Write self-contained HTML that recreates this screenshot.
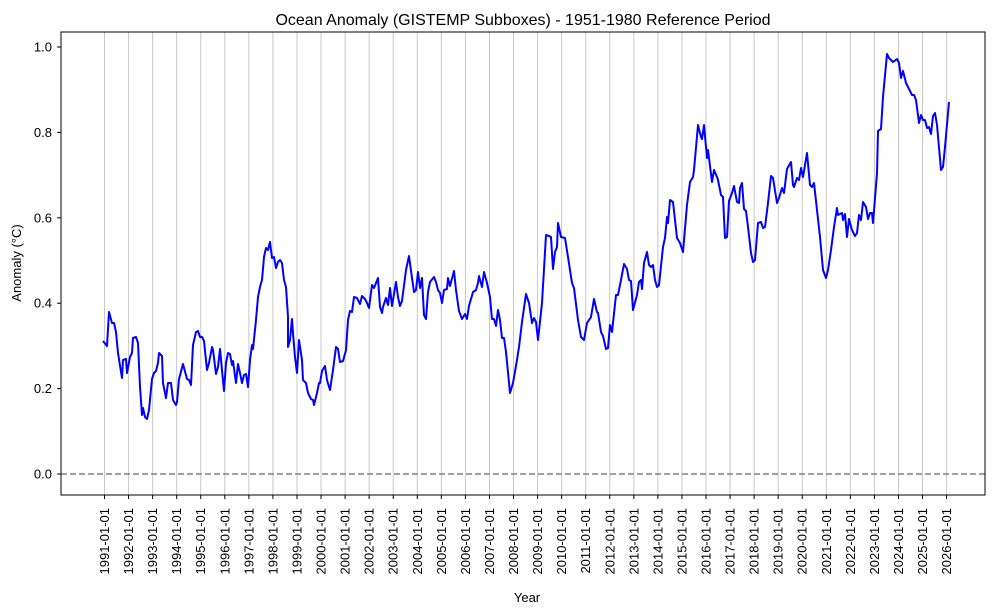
<!DOCTYPE html>
<html><head><meta charset="utf-8"><style>
html,body{margin:0;padding:0;background:#fff;}
svg{display:block;font-family:"Liberation Sans","DejaVu Sans",sans-serif;}
</style></head><body>
<svg id="s" width="996" height="615" viewBox="0 0 996 615" xmlns="http://www.w3.org/2000/svg">
<rect width="996" height="615" fill="#fff"/>
<g id="grid"></g>
<line x1="61" y1="474" x2="985" y2="474" stroke="#808080" stroke-width="1.5" stroke-dasharray="6,3"/>
<polyline fill="none" stroke="#0000ff" stroke-width="2" stroke-linejoin="round" points="103,341 107,346 109,312 112,323 114,323 116,332 118,353 122,378 123,360 126,359 127,373 130,357 132,353 133,338 136,337 138,343 140,387 142,415 143,408 145,417 147,419 149,410 152,379 154,373 156,371 158,363 159,353 162,356 163,383 166,398 168,383 171,383 173,400 176,405 177,402 179,379 183,364 187,379 189,380 191,385 193,345 196,332 198,331 200,337 202,337 204,341 207,370 209,363 212,347 213,350 216,374 218,367 220,349 222,370 224,391 226,363 228,353 230,354 232,365 233,361 236,383 238,364 240,373 242,383 244,375 246,374 248,387 250,360 252,345 253,349 256,320 258,297 260,287 262,280 264,257 266,248 268,250 270,242 272,258 274,257 276,268 278,262 280,260 282,263 284,280 286,287 288,317 288,347 290,340 292,319 293,333 295,357 297,373 299,340 302,360 303,380 306,383 308,393 311,399 313,400 314,405 317,393 319,383 320,383 322,371 325,366 327,380 330,390 333,370 336,347 338,349 340,362 343,361 346,350 348,320 350,311 352,312 354,297 357,298 360,304 362,296 365,299 367,303 369,308 372,285 374,288 378,278 380,307 382,313 383,307 386,298 388,305 390,288 392,306 396,282 398,297 400,306 402,301 406,270 409,256 412,278 414,292 416,290 418,272 420,288 422,278 424,315 426,319 428,292 430,282 434,277 436,282 438,290 440,293 442,303 444,290 447,289 448,278 450,286 454,271 456,290 459,311 462,319 465,314 467,319 469,306 473,292 476,290 478,283 479,276 482,287 484,272 487,283 490,297 492,319 494,319 496,326 498,310 500,320 502,338 504,338 506,352 510,393 513,383 517,360 519,347 522,322 526,294 529,303 532,323 534,318 536,322 538,340 542,303 546,235 549,236 551,237 553,269 555,252 557,247 558,223 561,237 565,238 568,257 572,283 574,288 578,320 581,337 584,340 587,323 589,320 591,317 594,299 597,312 598,313 601,332 603,336 606,349 608,348 610,325 612,332 616,295 618,295 621,280 624,264 627,269 629,280 631,281 633,310 637,295 639,282 641,280 642,289 644,263 647,252 649,265 651,267 653,265 655,280 657,287 659,285 663,247 665,238 667,217 668,223 670,200 673,202 677,238 680,243 683,252 687,205 690,182 693,177 694,170 698,125 701,137 702,139 704,125 707,158 708,150 712,182 714,170 717,177 718,180 721,195 723,197 725,238 727,237 729,201 732,193 734,186 737,202 739,203 740,188 742,183 744,209 746,211 748,227 751,253 753,262 755,260 758,223 761,222 763,228 765,227 768,203 771,176 773,178 777,203 779,198 782,188 784,193 787,169 791,162 793,185 794,187 797,178 799,180 801,168 803,177 807,153 810,185 812,187 814,183 817,210 820,237 823,270 826,278 828,270 831,250 834,227 837,208 838,215 842,213 843,220 845,214 847,237 849,219 852,230 855,236 857,233 859,215 861,220 863,202 866,207 868,219 870,213 872,213 873,223 877,173 878,131 881,129 883,97 887,54 889,58 893,62 897,59 899,63 901,78 903,71 906,83 908,87 912,95 914,95 916,100 919,123 921,115 923,120 925,120 927,128 929,127 931,134 933,116 935,113 937,125 941,170 943,167 945,147 949,102"/>
<rect x="61" y="32" width="924" height="463" fill="none" stroke="#000" stroke-width="1"/>
<g id="yt" font-size="13" fill="#000"></g>
<g id="xt" font-size="13" fill="#000"></g>
<text x="523" y="25" font-size="16" text-anchor="middle">Ocean Anomaly (GISTEMP Subboxes) - 1951-1980 Reference Period</text>
<text x="527" y="602" font-size="13" text-anchor="middle">Year</text>
<text transform="translate(21,263) rotate(-90)" font-size="13" text-anchor="middle">Anomaly (°C)</text>
</svg>
<script>
var NS="http://www.w3.org/2000/svg";
function el(t,a,p,txt){var e=document.createElementNS(NS,t);for(var k in a)e.setAttribute(k,a[k]);if(txt)e.textContent=txt;document.getElementById(p).appendChild(e);return e;}
for(var i=0;i<=35;i++){var x=104.5+i*24.06;
el('line',{x1:x,y1:32,x2:x,y2:495,stroke:'#c8c8c8','stroke-width':1},'grid');
el('line',{x1:x,y1:495,x2:x,y2:499,stroke:'#000','stroke-width':1},'xt');
el('text',{transform:'translate('+(x+4.5)+',508) rotate(-90)','text-anchor':'end'},'xt',(1991+i)+'-01-01');}
for(var j=0;j<=5;j++){var v=j*0.2,y=474-v*427;
el('line',{x1:57,y1:y,x2:61,y2:y,stroke:'#000'},'yt');
el('text',{x:52,y:y+4.5,'text-anchor':'end'},'yt',v.toFixed(1));}
</script>
</body></html>
